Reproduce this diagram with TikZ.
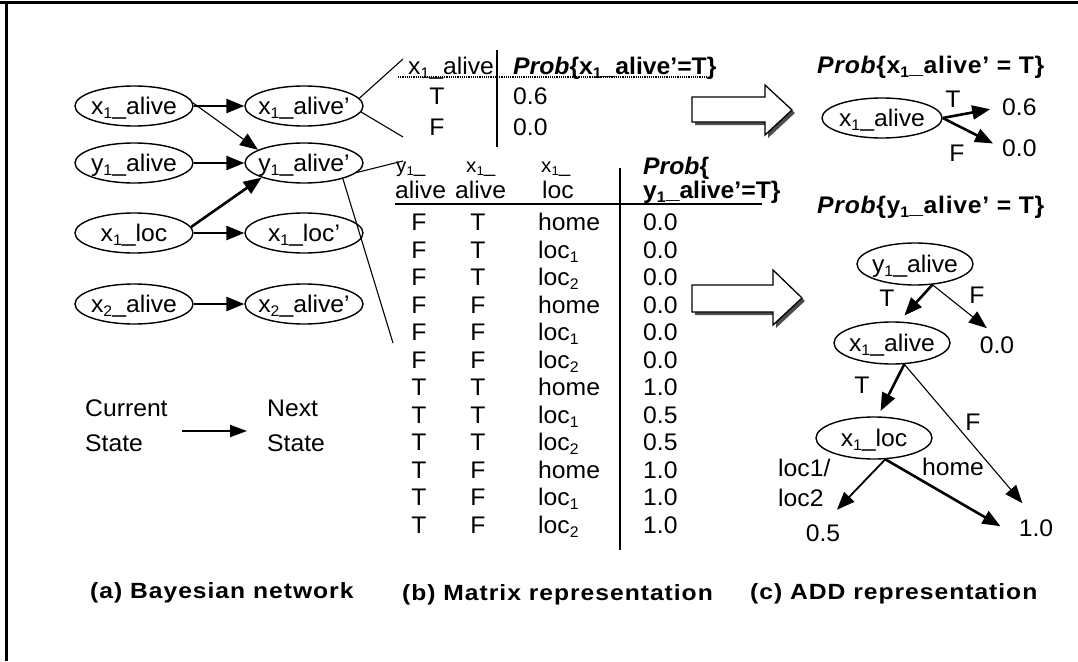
\documentclass[tikz,border=0pt]{standalone}
\usepackage{fontspec}
\setmainfont{Liberation Sans}[FakeStretch=1.03]
\newfontfamily\capfont{Liberation Sans}[FakeStretch=1.12]
\usetikzlibrary{shapes.geometric,arrows.meta}
\newcommand{\lo}[1]{\raisebox{-0.18em}{\scalebox{0.64}{#1}}}
\newcommand{\vn}[1]{\makebox[0pt]{#1}}
\newcommand{\pr}{\textbf{\textit{Prob}}}

\begin{document}
\begin{tikzpicture}[x=1pt,y=-1pt,
  every node/.style={inner sep=0pt,font=\fontsize{24}{28}\selectfont,text height=17.2pt,text depth=0pt},
  var/.style={ellipse,draw,line width=1.4pt,minimum width=118pt,minimum height=40pt},
  addvar/.style={var,minimum width=116pt,minimum height=42pt},
  small/.style={font=\fontsize{20}{24}\selectfont,text height=14.3pt},
  head/.style={font=\fontsize{24}{28}\selectfont\addfontfeature{LetterSpace=3}},
  caption/.style={font=\capfont\fontsize{22}{26}\selectfont\bfseries\addfontfeature{LetterSpace=4.5},text height=15.7pt},
  thinline/.style={line width=1.1pt},
  heavy/.style={line width=2.6pt},
  medium/.style={line width=1.8pt},
  tri/.style={-{Triangle[length=18pt,width=14pt]}},
  rule/.style={line width=1.2pt},
  hollow/.style={fill=white,draw=black,line width=1.3pt,line join=miter},
  shade/.style={fill=black!70},
]
\useasboundingbox (0,0) rectangle (1078,661);

% frame
\draw[line width=3pt] (0,3) -- (1078,3);
\draw[line width=3pt] (6,3) -- (6,661);

% ---------------- (a) Bayesian network ----------------
\node[var] (x1a)  at (134,106) {\vn{x\lo{1}\_alive}};
\node[var] (x1ap) at (304,106) {\vn{x\lo{1}\_alive'}};
\node[var] (y1a)  at (134,163) {\vn{y\lo{1}\_alive}};
\node[var] (y1ap) at (304,163) {\vn{y\lo{1}\_alive'}};
\node[var] (x1l)  at (134,233) {\vn{x\lo{1}\_loc}};
\node[var] (x1lp) at (304,233) {\vn{x\lo{1}\_loc'}};
\node[var] (x2a)  at (134,304) {\vn{x\lo{2}\_alive}};
\node[var] (x2ap) at (304,304) {\vn{x\lo{2}\_alive'}};

\draw[heavy,tri] (x1a) -- (x1ap);
\draw[thinline,tri] (x1a.3) -- (y1ap.164);
\draw[heavy,tri] (y1a) -- (y1ap);
\draw[heavy,tri] (x1l.6) -- (y1ap.199);
\draw[heavy,tri] (x1l) -- (x1lp);
\draw[heavy,tri] (x2a) -- (x2ap);

% legend: each label is a stack of two words
\node[anchor=west] (cur) at (85,408) {Current};
\node[anchor=west] (curb) at (85,443) {State};
\node[anchor=west] (nxt) at (267,408) {Next};
\node[anchor=west] (nxtb) at (267,443) {State};
\coordinate (lgfrom) at (182,431);
\coordinate (lgto) at (247,431);
\draw[line width=2pt,-{Triangle[length=17pt,width=12pt]}] (lgfrom) -- (lgto);

% callout lines towards the tables
\coordinate (ca) at (403,59);
\coordinate (cb) at (403,137);
\coordinate (cc) at (403,161);
\coordinate (cd) at (393,343);
\draw[thinline] (x1ap.8) -- (ca);
\draw[thinline] (x1ap.-6) -- (cb);
\draw[thinline] (y1ap.-10) -- (cc);
\draw[thinline] (y1ap.-22) -- (cd);

% ---------------- (b) Matrix representation ----------------
% CPT of x1_alive'
\node[anchor=west] (ta1) at (408,66) {x\lo{1}\_alive};
\node[anchor=west] (ta2) at (513,66) {\pr\textbf{\{x\lo{1}\_alive'=T\}}};
\draw[densely dotted,line width=1.2pt] (398,77) -- (707,77);
\draw[rule] (497,50) -- (497,147);
\node (tb1) at (437,96) {T};
\node[anchor=west] (tb2) at (513,96) {0.6};
\node (tc1) at (437,127) {F};
\node[anchor=west] (tc2) at (513,127) {0.0};

% CPT of y1_alive'
\node[small,anchor=west] (hs1) at (396,165) {y\lo{1}\_};
\node[small,anchor=west] (hs2) at (466,165) {x\lo{1}\_};
\node[small,anchor=west] (hs3) at (541,165) {x\lo{1}\_};
\node[anchor=west] (hl1) at (395,190) {alive};
\node[anchor=west] (hl2) at (455,190) {alive};
\node[anchor=west] (hl3) at (542,190) {loc};
\node[anchor=west] (hp1) at (643,166) {\pr\textbf{\{}};
\node[anchor=west] (hp2) at (643,190) {\textbf{y\lo{1}\_alive'=T\}}};
\draw[line width=2.2pt] (395,204) -- (762,204);
\draw[rule] (620,168) -- (620,550);
\foreach \a/\b/\c/\d [count=\i from 0] in
  {F/T/home/0.0, F/T/loc\lo{1}/0.0, F/T/loc\lo{2}/0.0,
   F/F/home/0.0, F/F/loc\lo{1}/0.0, F/F/loc\lo{2}/0.0,
   T/T/home/1.0, T/T/loc\lo{1}/0.5, T/T/loc\lo{2}/0.5,
   T/F/home/1.0, T/F/loc\lo{1}/1.0, T/F/loc\lo{2}/1.0}{
  \node (m\i a) at (419,{222+27.5*\i}) {\a};
  \node (m\i b) at (478,{222+27.5*\i}) {\b};
  \node[anchor=west] (m\i c) at (538,{222+27.5*\i}) {\c};
  \node[anchor=west] (m\i d) at (643,{222+27.5*\i}) {\d};
}

% block arrows
\fill[shade] (695,100) -- (768,100) -- (768,88) -- (795,113) -- (768,138) -- (768,125) -- (695,125) -- cycle;
\draw[hollow] (692,97) -- (765,97) -- (765,85) -- (792,110) -- (765,135) -- (765,122) -- (692,122) -- cycle;
\fill[shade] (695,288) -- (776,288) -- (776,273) -- (805,301) -- (776,328) -- (776,315) -- (695,315) -- cycle;
\draw[hollow] (692,285) -- (773,285) -- (773,270) -- (802,298) -- (773,325) -- (773,312) -- (692,312) -- cycle;

% ---------------- (c) ADD representation ----------------
\node[head,anchor=west] (pa) at (817,65) {\pr\textbf{\{x\lo{1}\_alive' = T\}}};
\node[var,minimum width=120pt] (ra) at (882,118) {\vn{x\lo{1}\_alive}};
\node[anchor=west] (v06) at (1002,107) {0.6};
\node[anchor=west] (v00a) at (1002,148) {0.0};
\draw[heavy,tri,shorten >=12pt] (ra.east) -- (v06.west);
\draw[heavy,tri,shorten >=10pt] (ra.east) -- (v00a.west);
\node (lt0) at (953,99) {T};
\node (lf0) at (957,153) {F};

\node[head,anchor=west] (pb) at (817,205) {\pr\textbf{\{y\lo{1}\_alive' = T\}}};
\node[addvar] (dy) at (915,264) {\vn{y\lo{1}\_alive}};
\node[addvar] (dx) at (892,343) {\vn{x\lo{1}\_alive}};
\node[addvar] (dl) at (874,438) {\vn{x\lo{1}\_loc}};
\node (v00b) at (997,345) {0.0};
\node (v05) at (823,533) {0.5};
\node (v10) at (1036,528) {1.0};

\draw[heavy,tri,shorten >=8pt] (dy.-50) -- (dx.72);
\draw[thinline,tri,shorten >=13pt] (dy.-50) -- (v00b.north);
\draw[heavy,tri,shorten >=6pt] (dx.-60) -- (dl.80);
\draw[thinline,tri,shorten >=21pt] (dx.-60) -- (v10.north);
\draw[medium,tri,shorten >=20pt] (dl.-62) -- (v05.north);
\draw[heavy,tri,shorten >=21pt] (dl.-62) -- (v10.south west);

\node (lt1) at (887,298) {T};
\node (lf1) at (977,295) {F};
\node (lt2) at (862,385) {T};
\node (lf2) at (973,422) {F};
\node (lh) at (953,467) {home};
\node[anchor=west] (ll1) at (778,468) {loc1/};
\node[anchor=west] (ll2) at (778,498) {loc2};

% captions
\node[caption,anchor=west] (cpa) at (90,591) {(a) Bayesian network};
\node[caption,anchor=west] (cpb) at (402,593) {(b) Matrix representation};
\node[caption,anchor=west] (cpc) at (750,592) {(c) ADD representation};
\end{tikzpicture}
\end{document}
